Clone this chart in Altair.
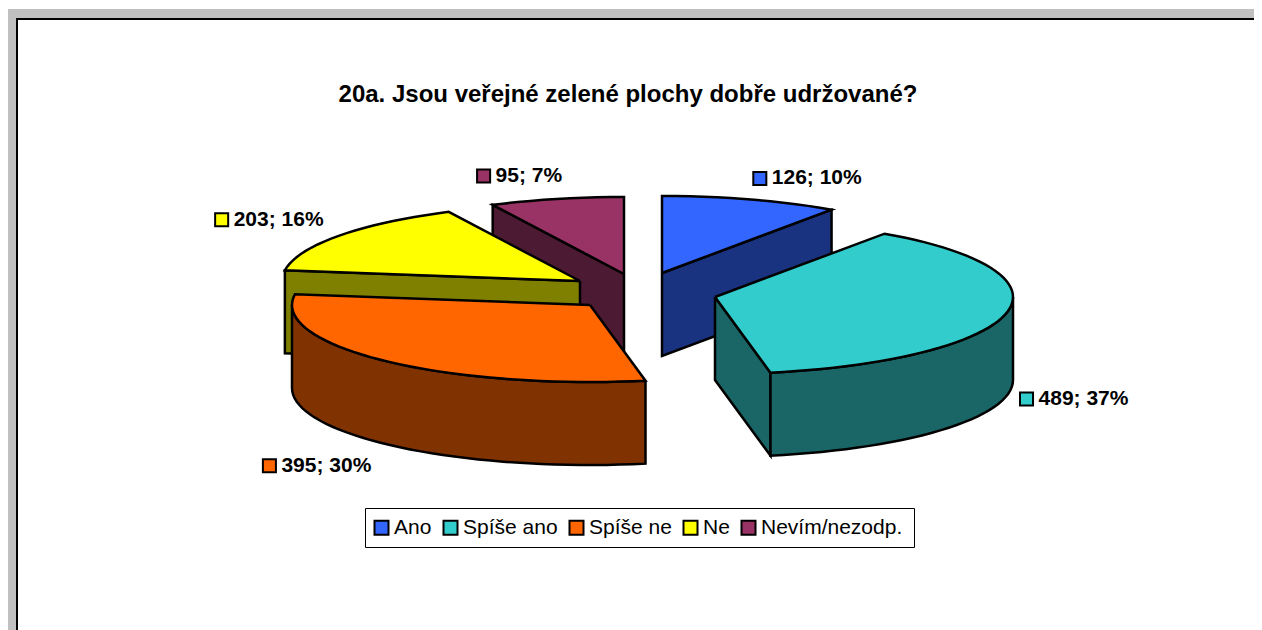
import math
import altair as alt
import pandas as pd

# --- data
categories = ["Ano", "Spíše ano", "Spíše ne", "Ne", "Nevím/nezodp."]
counts = [126, 489, 395, 203, 95]
percents = [10, 37, 30, 16, 7]
title = "20a. Jsou veřejné zelené plochy dobře udržované?"

# --- styling / layout
top_colors = ["#3366FF", "#33CCCC", "#FF6600", "#FFFF00", "#993366"]
side_colors = ["#1A3380", "#1A6666", "#803300", "#808000", "#4D1A33"]
apexes = [(662, 273), (715, 297), (590, 305), (580, 281), (624, 274)]
label_offsets = [(9, -21), (20, 86), (-115, 105), (-117, -16), (-73, -23)]
A, B, DEPTH = 298, 77, 83
W, H = 1246, 622
FONT = "Liberation Sans"

x_scale = alt.Scale(domain=[8, 8 + W], range=[0, W], nice=False, zero=False)
y_scale = alt.Scale(domain=[8 + H, 8], range=[H, 0], nice=False, zero=False)
total = sum(counts)


def rim(i, deg, drop=0):
    cx, cy = apexes[i]
    r = math.radians(deg)
    return cx + A * math.sin(r), cy - B * math.cos(r) + drop


def arc(i, a0, a1, drop=0):
    n = max(2, int(abs(a1 - a0) / 2.5) + 1)
    return [rim(i, a0 + (a1 - a0) * k / (n - 1), drop) for k in range(n)]


def poly(points, fill):
    pts = list(points) + [points[0]]
    df = pd.DataFrame({"x": [p[0] for p in pts], "y": [p[1] for p in pts], "o": range(len(pts))})
    return alt.Chart(df).mark_line(fill=fill, stroke="black", strokeWidth=2.5, strokeJoin="miter", interpolate="linear").encode(
        x=alt.X("x:Q", scale=x_scale, axis=None),
        y=alt.Y("y:Q", scale=y_scale, axis=None),
        order="o:Q",
    )


# slice angles from the values
edges = [0]
for c in counts:
    edges.append(edges[-1] + 360 * c / total)

layers = []
for i in [4, 0, 3, 1, 2]:  # back to front
    a0, a1 = edges[i], edges[i + 1]
    apex = apexes[i]
    low = (apex[0], apex[1] + DEPTH)
    # visible cut face
    if i in (3, 4):
        layers.append(poly([apex, rim(i, a0), rim(i, a0, DEPTH), low], side_colors[i]))
    if i in (0, 1):
        layers.append(poly([apex, rim(i, a1), rim(i, a1, DEPTH), low], side_colors[i]))
    # visible outer wall (front half of the ellipse)
    w0, w1 = max(a0, 90), min(a1, 270)
    if w0 < w1:
        layers.append(poly(arc(i, w0, w1) + arc(i, w1, w0, DEPTH), side_colors[i]))
    # top
    layers.append(poly([apex] + arc(i, a0, a1), top_colors[i]))

# data labels beside each slice, anchored on its rim
rows = []
for i, cat in enumerate(categories):
    rx, ry = rim(i, (edges[i] + edges[i + 1]) / 2)
    rows.append({
        "cat": cat,
        "x": rx + label_offsets[i][0],
        "y": ry + label_offsets[i][1],
        "label": f"{counts[i]}; {percents[i]}%",
    })
labels = pd.DataFrame(rows)

swatches = alt.Chart(labels).mark_square(size=170, stroke="black", strokeWidth=2, opacity=1).encode(
    x=alt.X("x:Q", scale=x_scale, axis=None),
    y=alt.Y("y:Q", scale=y_scale, axis=None),
    fill=alt.Fill(
        "cat:N",
        scale=alt.Scale(domain=categories, range=top_colors),
        sort=categories,
        legend=alt.Legend(
            title=None, orient="none", legendX=363, legendY=509, direction="horizontal", columns=5,
            symbolType="square", symbolSize=196, symbolStrokeColor="black", symbolStrokeWidth=2,
            labelFont=FONT, labelFontSize=21, labelColor="black", labelOffset=2, columnPadding=7,
            padding=0, zindex=1,
        ),
    ),
)
texts = alt.Chart(labels).mark_text(align="left", baseline="middle", dx=12, font=FONT, fontSize=21, fontWeight="bold", color="black").encode(
    x=alt.X("x:Q", scale=x_scale, axis=None),
    y=alt.Y("y:Q", scale=y_scale, axis=None),
    text="label:N",
)

# window frame and legend box
one = pd.DataFrame({"a": [0]})
frame = [
    alt.Chart(one).mark_rect(color="#C0C0C0").encode(x=alt.value(0), x2=alt.value(W), y=alt.value(1), y2=alt.value(10)),
    alt.Chart(one).mark_rect(color="#C0C0C0").encode(x=alt.value(0), x2=alt.value(8), y=alt.value(1), y2=alt.value(H)),
    alt.Chart(one).mark_rect(color="black").encode(x=alt.value(8), x2=alt.value(W), y=alt.value(10), y2=alt.value(12)),
    alt.Chart(one).mark_rect(color="black").encode(x=alt.value(8), x2=alt.value(10), y=alt.value(10), y2=alt.value(H)),
    alt.Chart(one).mark_rect(fill="white", stroke="black", strokeWidth=1).encode(x=alt.value(357.5), x2=alt.value(906.5), y=alt.value(500.5), y2=alt.value(539.5)),
]

chart = alt.layer(*frame, *layers, swatches, texts).properties(
    width=W,
    height=H,
    padding=0,
    autosize=alt.AutoSizeParams(type="none"),
    title=alt.TitleParams(title, font=FONT, fontSize=24, fontWeight="bold", color="black", anchor="middle", offset=-99, dx=-3),
).configure_view(stroke=None)

chart.save("out.html", embed_options={"renderer": "svg", "actions": False})
